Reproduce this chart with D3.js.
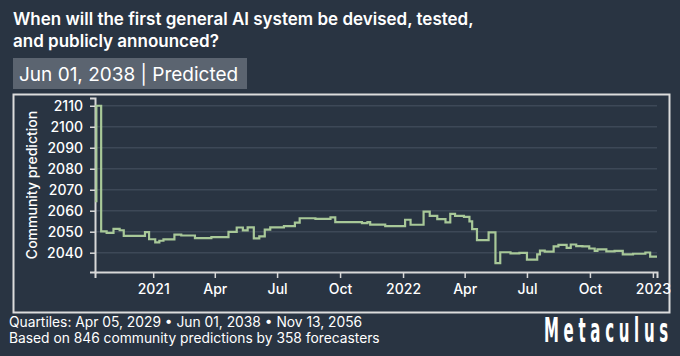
<!DOCTYPE html>
<html>
<head>
<meta charset="utf-8">
<script src="https://cdn.jsdelivr.net/npm/d3@7"></script>
<style>
  html, body { margin: 0; padding: 0; background: #293442; }
  svg { display: block; }
</style>
</head>
<body>
<svg id="chart" width="680" height="356"></svg>
<script>
// ---------- data ----------
const dates = [
  "2020-10-08","2020-10-10","2020-10-17","2020-10-25","2020-11-04","2020-11-13","2020-11-19",
  "2020-12-20","2020-12-26","2021-01-04","2021-01-10","2021-01-16","2021-02-01","2021-02-11",
  "2021-03-03","2021-03-27","2021-04-21","2021-05-03","2021-05-12","2021-05-19","2021-05-28",
  "2021-06-05","2021-06-13","2021-06-21","2021-07-11","2021-07-27","2021-08-03","2021-08-26",
  "2021-09-17","2021-09-24","2021-11-02","2021-11-10","2021-11-14","2021-12-06","2022-01-04",
  "2022-01-12","2022-01-31","2022-02-09","2022-02-20","2022-03-04","2022-03-11","2022-03-18",
  "2022-03-31","2022-04-08","2022-04-12","2022-04-19","2022-05-06","2022-05-16","2022-05-23",
  "2022-06-07","2022-06-20","2022-07-01","2022-07-16","2022-07-20","2022-07-27","2022-08-09",
  "2022-08-16","2022-08-28","2022-09-03","2022-09-11","2022-09-20","2022-09-30","2022-10-08",
  "2022-10-12","2022-10-25","2022-11-06","2022-11-18","2022-12-03","2022-12-21","2022-12-28",
  "2023-01-07"
];
const values = [
  2064.5, 2110, 2050.2, 2049.4, 2051.3, 2050.7, 2048.0,
  2049.8, 2046.4, 2044.9, 2045.7, 2046.3, 2048.6, 2048.2,
  2046.9, 2047.4, 2049.9, 2052.0, 2050.6, 2052.1, 2046.8,
  2047.8, 2051.0, 2052.1, 2052.7, 2054.3, 2056.4, 2056.1,
  2056.8, 2054.6, 2054.1, 2054.6, 2053.4, 2052.7, 2055.7,
  2053.3, 2059.6, 2057.5, 2056.0, 2054.4, 2058.5, 2057.5,
  2057.1, 2054.9, 2051.2, 2046.0, 2049.7, 2035.0, 2040.2,
  2039.7, 2039.9, 2036.7, 2039.2, 2041.0, 2040.5, 2043.0,
  2043.7, 2042.3, 2043.9, 2043.1, 2043.0, 2042.0, 2040.8,
  2041.6, 2040.6, 2040.9, 2039.2, 2039.5, 2040.1, 2038.1,
  2038.1
];
const xTickDates = ["2021-01-01","2021-04-01","2021-07-01","2021-10-01","2022-01-01","2022-04-01","2022-07-01","2022-10-01","2023-01-01"];
const xTickLabels = ["2021","Apr","Jul","Oct","2022","Apr","Jul","Oct","2023"];
const yTicks = [2040, 2050, 2060, 2070, 2080, 2090, 2100, 2110];
const titleLines = ["When will the first general AI system be devised, tested,", "and publicly announced?"];
const subtitle = "Jun 01, 2038 | Predicted";
const footerLines = ["Quartiles: Apr 05, 2029 \u2022 Jun 01, 2038 \u2022 Nov 13, 2056", "Based on 846 community predictions by 358 forecasters"];
const yLabel = "Community prediction";
const brand = "Metaculus";

// ---------- drawing ----------
const parse = d3.utcParse("%Y-%m-%d");
const series = dates.map((d, i) => ({ date: parse(d), value: values[i] }));

const svg = d3.select("#chart");
const FONT = "Inter, 'Liberation Sans', sans-serif";

svg.append("rect").attr("width", 680).attr("height", 356).attr("fill", "#293442");

// title
svg.append("g").selectAll("text").data(titleLines).join("text")
  .attr("x", 13).attr("y", (d, i) => 25 + i * 22)
  .attr("fill", "#ffffff").attr("font-family", FONT)
  .attr("font-size", 17).attr("font-weight", 600)
  .text(d => d);

// subtitle box
svg.append("rect").attr("x", 13).attr("y", 58).attr("width", 234).attr("height", 31)
  .attr("fill", "#5b6470");
svg.append("text").attr("x", 19).attr("y", 80.5)
  .attr("fill", "#ffffff").attr("font-family", FONT).attr("font-size", 19).attr("font-weight", 400)
  .text(subtitle);

// frame
svg.append("rect").attr("x", 13.5).attr("y", 94.5).attr("width", 656).attr("height", 218)
  .attr("fill", "none").attr("stroke", "#dcdcdc").attr("stroke-width", 2);

const x = d3.scaleUtc().domain([parse("2020-10-08"), parse("2023-01-07")]).range([95, 657]);
const y = d3.scaleLinear().domain([2030.8, 2113.7]).range([272, 98]);

// gridlines
svg.append("g").selectAll("line").data(yTicks).join("line")
  .attr("x1", 96).attr("x2", 657)
  .attr("y1", d => y(d)).attr("y2", d => y(d))
  .attr("stroke", "#3d4857").attr("stroke-width", 1.5);

// y axis
const yAxis = svg.append("g").attr("transform", "translate(95,0)")
  .call(d3.axisLeft(y).tickValues(yTicks).tickFormat(d3.format("d")).tickSize(5).tickPadding(7));
// x axis
const xAxis = svg.append("g").attr("transform", "translate(0,272)")
  .call(d3.axisBottom(x).tickValues(xTickDates.map(parse))
    .tickFormat((d, i) => xTickLabels[i]).tickSize(6).tickPadding(6));

[yAxis, xAxis].forEach(g => {
  g.select(".domain").attr("stroke", "#d8d8d8").attr("stroke-width", 2);
  g.selectAll(".tick line").attr("stroke", "#d8d8d8").attr("stroke-width", 1.5);
  g.selectAll(".tick text").attr("fill", "#ffffff").attr("font-family", FONT)
    .attr("font-size", 14).attr("font-weight", 500);
});

// y label
svg.append("text")
  .attr("transform", "translate(37,185) rotate(-90)")
  .attr("text-anchor", "middle")
  .attr("fill", "#ffffff").attr("font-family", FONT).attr("font-size", 14).attr("font-weight", 500)
  .text(yLabel);

// line
const line = d3.line().x(d => x(d.date)).y(d => y(d.value)).curve(d3.curveStepAfter);
svg.append("path").datum(series)
  .attr("d", line).attr("fill", "none")
  .attr("stroke", "#a8c898").attr("stroke-width", 2.2);

// footer
svg.append("g").selectAll("text").data(footerLines).join("text")
  .attr("x", 9).attr("y", (d, i) => 327 + i * 15.5)
  .attr("fill", "#ffffff").attr("font-family", FONT).attr("font-size", 13.8).attr("font-weight", 400)
  .text(d => d);

// brand
svg.append("text")
  .attr("transform", "translate(544,342.3) scale(0.6,1.35)")
  .attr("x", 0).attr("y", 0)
  .attr("fill", "#ffffff").attr("font-family", "'DejaVu Sans', sans-serif")
  .attr("font-size", 25).attr("font-weight", 700)
  .attr("textLength", 207).attr("lengthAdjust", "spacing")
  .text(brand);
</script>
</body>
</html>
